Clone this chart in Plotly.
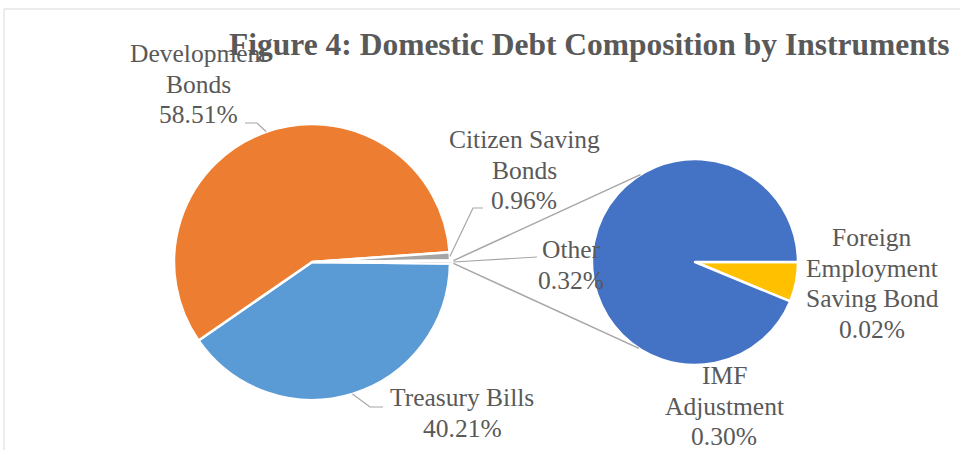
import math
import plotly.graph_objects as go

# ---- data -------------------------------------------------------------
main_names = ["Treasury Bills", "Development<br>Bonds", "Citizen Saving<br>Bonds", "Other"]
main_values = [40.21, 58.51, 0.96, 0.32]

sub_names = ["Foreign<br>Employment<br>Saving Bond", "IMF<br>Adjustment"]
sub_values = [0.02, 0.30]

title_text = "Figure 4: Domestic Debt Composition by Instruments"

# ---- styling ----------------------------------------------------------
W, H = 960, 450
FONT = "Liberation Serif"
TXT = "#595959"
LINE = "#A6A6A6"
main_colors = ["#5B9BD5", "#ED7D31", "#A5A5A5", "#A5A5A5"]
sub_colors = ["#FFC000", "#4472C4"]
LBL = 25.5
LINE_GAP = 30.5

# pie geometry in pixels
MAIN_C, MAIN_R = (312.0, 262.0), 138.0
SUB_C, SUB_R = (695.0, 262.0), 103.0
main_pull = [0, 0, 0, 0.025]


def px(x, y):
    return x / W, 1 - y / H


def domain_for(center, r, maxpull):
    half = r * (1 + maxpull)
    cx, cy = center
    return dict(x=[(cx - half) / W, (cx + half) / W],
                y=[1 - (cy + half) / H, 1 - (cy - half) / H])


def edge_point(center, r, theta_deg):
    # theta measured clockwise from 12 o'clock
    t = math.radians(theta_deg)
    return center[0] + r * math.sin(t), center[1] - r * math.cos(t)


total = sum(main_values)
other_half = main_values[-1] / total * 360 / 2
rotation = 90 + other_half

fig = go.Figure()
fig.add_trace(go.Pie(
    values=main_values, labels=[n.replace("<br>", " ") for n in main_names],
    sort=False, direction="clockwise", rotation=rotation,
    marker=dict(colors=main_colors, line=dict(color="white", width=2.5)),
    pull=main_pull, textinfo="none", hoverinfo="label+percent",
    domain=domain_for(MAIN_C, MAIN_R, max(main_pull)),
))
fig.add_trace(go.Pie(
    values=sub_values, labels=[n.replace("<br>", " ") for n in sub_names],
    sort=False, direction="clockwise", rotation=90,
    marker=dict(colors=sub_colors, line=dict(color="white", width=2.5)),
    textinfo="none", hoverinfo="label+value",
    domain=domain_for(SUB_C, SUB_R, 0),
))

# mid angles of main slices
mids = []
acc = rotation
for v in main_values:
    span = v / total * 360
    mids.append(acc + span / 2)
    acc += span

shapes = []


def seg(points, color=LINE, width=1.2):
    path = ""
    for i, (x, y) in enumerate(points):
        xp, yp = px(x, y)
        path += ("M" if i == 0 else " L") + f" {xp:.5f},{yp:.5f}"
    shapes.append(dict(type="path", path=path, xref="paper", yref="paper",
                       line=dict(color=color, width=width)))


# leader lines for main slices
seg([edge_point(MAIN_C, MAIN_R, mids[1]), (257, 123), (245, 123)])
seg([edge_point(MAIN_C, MAIN_R, mids[0]), (370, 407), (383, 407)])
seg([edge_point(MAIN_C, MAIN_R, mids[2]), (473, 208), (483, 208)])
other_r = MAIN_R * (1 + main_pull[-1])
other_tip = edge_point(MAIN_C, other_r, mids[3])
seg([other_tip, (537, 257)])

# connector lines from the "Other" slice to the secondary pie
up_start = edge_point(MAIN_C, other_r, mids[3] - other_half)
dn_start = edge_point(MAIN_C, other_r, mids[3] + other_half)
seg([up_start, edge_point(SUB_C, SUB_R, -32)], width=1.5)
seg([dn_start, edge_point(SUB_C, SUB_R, 213)], width=1.5)

# chart-area border
shapes.append(dict(type="rect", xref="paper", yref="paper",
                   x0=4 / W, x1=1.01, y0=-0.01, y1=1 - 9 / H,
                   line=dict(color="#D9D9D9", width=1), fillcolor="rgba(0,0,0,0)",
                   layer="below"))

annotations = []


def text_line(text, xc, baseline, size=LBL, bold=False):
    y_top = baseline - 0.891 * size
    annotations.append(dict(
        text=f"<b>{text}</b>" if bold else text,
        x=xc / W, y=1 - y_top / H, xref="paper", yref="paper",
        xanchor="center", yanchor="top", showarrow=False, align="center",
        borderpad=0, borderwidth=0,
        font=dict(family=FONT, size=size, color=TXT)))


def label(name, value, xc, first_baseline):
    lines = name.split("<br>") + [f"{value:.2f}%"]
    for i, ln in enumerate(lines):
        text_line(ln, xc, first_baseline + i * LINE_GAP)


label(main_names[1], main_values[1], 198, 62)
label(main_names[2], main_values[2], 524, 148)
label(main_names[3], main_values[3], 571, 258)
label(main_names[0], main_values[0], 462, 406)
label(sub_names[0], sub_values[0], 872, 246)
label(sub_names[1], sub_values[1], 724, 384)
text_line(title_text, 589, 55, size=31.5, bold=True)

fig.update_layout(
    width=W, height=H, autosize=False,
    margin=dict(l=0, r=0, t=0, b=0),
    paper_bgcolor="white", plot_bgcolor="white",
    showlegend=False, shapes=shapes, annotations=annotations,
)

fig.write_html("out.html")
